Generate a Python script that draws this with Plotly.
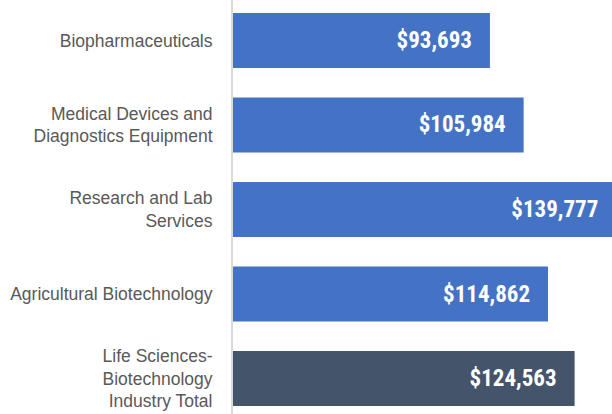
import plotly.graph_objects as go

categories = [
    "Biopharmaceuticals",
    "Medical Devices and<br>Diagnostics Equipment",
    "Research and Lab<br>Services",
    "Agricultural Biotechnology",
    "Life Sciences-<br>Biotechnology<br>Industry Total",
]
wages = [93693, 105984, 139777, 114862, 124563]
bar_colors = ["#4472C4", "#4472C4", "#4472C4", "#4472C4", "#44546A"]

PAD = "\u00a0\u00a0\u2009"
fig = go.Figure(
    go.Bar(
        y=categories,
        x=wages,
        orientation="h",
        marker=dict(color=bar_colors, line=dict(width=0)),
        texttemplate="$%{x:,}" + PAD,
        textposition="inside",
        insidetextanchor="end",
        textangle=0,
        insidetextfont=dict(
            family="Roboto Condensed, Liberation Sans Narrow, sans-serif",
            size=23,
            color="white",
            weight="bold",
        ),
        hoverinfo="skip",
    )
)

fig.update_layout(
    width=612,
    height=414,
    margin=dict(l=233, r=0, t=0, b=0),
    paper_bgcolor="white",
    plot_bgcolor="white",
    bargap=0.349,
    showlegend=False,
)
fig.update_xaxes(
    range=[0, 138200],
    showgrid=False,
    zeroline=False,
    showticklabels=False,
    showline=False,
    fixedrange=True,
)
fig.update_yaxes(
    type="category",
    range=[4.420, -0.479],
    showgrid=False,
    zeroline=False,
    showline=True,
    linecolor="#D9D9D9",
    linewidth=2,
    ticks="",
    ticklabelstandoff=15,
    tickfont=dict(family="Liberation Sans, Arial, sans-serif", size=17.5, color="#595959"),
    fixedrange=True,
)

fig.write_html(
    "out.html",
    config={"displayModeBar": False},
    post_script="document.body.style.margin='0px';",
)
